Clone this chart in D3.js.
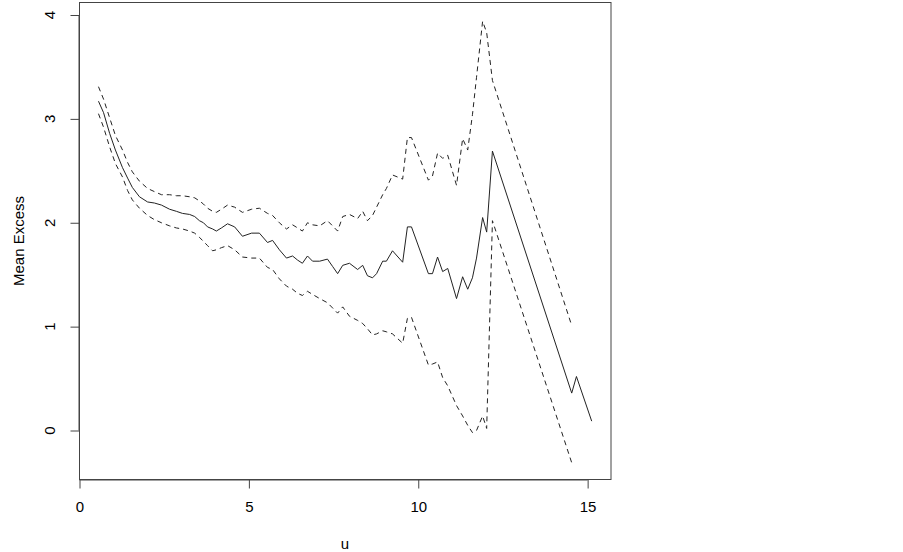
<!DOCTYPE html>
<html>
<head>
<meta charset="utf-8">
<script src="https://cdn.jsdelivr.net/npm/d3@7"></script>
<style>
  body { margin: 0; background: #fff; }
  text { font-family: "Liberation Sans", Arial, sans-serif; fill: #000; }
</style>
</head>
<body>
<div id="chart"></div>
<script>
// threshold u and mean excess with its confidence band
var u = [0.56, 0.71, 0.89, 1.06, 1.27, 1.42, 1.56, 1.77, 2.01, 2.21,
         2.42, 2.66, 2.86, 3.04, 3.25, 3.40, 3.54, 3.66, 3.78, 3.93,
         4.04, 4.19, 4.37, 4.58, 4.81, 5.08, 5.31, 5.55, 5.70, 5.90,
         6.11, 6.29, 6.44, 6.58, 6.73, 6.88, 7.09, 7.32, 7.47, 7.62,
         7.77, 7.97, 8.21, 8.36, 8.50, 8.65, 8.77, 8.95, 9.06, 9.24,
         9.54, 9.68, 9.80, 10.30, 10.42, 10.57, 10.72, 10.87, 11.13, 11.31,
         11.46, 11.60, 11.72, 11.90, 12.02, 12.19, 14.53, 14.67, 15.12];

var meanExcess = [3.17, 3.06, 2.86, 2.70, 2.53, 2.43, 2.34, 2.25, 2.20, 2.19,
                  2.17, 2.13, 2.11, 2.09, 2.08, 2.06, 2.02, 2.00, 1.96, 1.94,
                  1.92, 1.95, 1.99, 1.96, 1.87, 1.90, 1.90, 1.81, 1.83, 1.74,
                  1.66, 1.68, 1.64, 1.61, 1.68, 1.63, 1.63, 1.65, 1.58, 1.51,
                  1.59, 1.61, 1.55, 1.59, 1.49, 1.47, 1.51, 1.63, 1.63, 1.73,
                  1.62, 1.96, 1.96, 1.51, 1.51, 1.67, 1.53, 1.56, 1.27, 1.48,
                  1.36, 1.47, 1.66, 2.05, 1.91, 2.69, 0.36, 0.52, 0.09];

var upperCI = [3.31, 3.19, 3.01, 2.84, 2.70, 2.58, 2.49, 2.40, 2.33, 2.30,
               2.27, 2.27, 2.26, 2.26, 2.25, 2.24, 2.21, 2.18, 2.14, 2.11,
               2.10, 2.13, 2.17, 2.15, 2.10, 2.13, 2.14, 2.09, 2.07, 2.00,
               1.94, 1.98, 1.95, 1.92, 2.00, 1.98, 1.97, 2.02, 1.97, 1.92,
               2.06, 2.08, 2.04, 2.11, 2.02, 2.07, 2.15, 2.27, 2.33, 2.46,
               2.42, 2.82, 2.82, 2.41, 2.45, 2.67, 2.62, 2.65, 2.36, 2.81,
               2.70, 3.04, 3.40, 3.94, 3.83, 3.37, 1.01, null, null];

var lowerCI = [3.05, 2.92, 2.73, 2.57, 2.44, 2.31, 2.22, 2.14, 2.07, 2.03,
               2.00, 1.97, 1.95, 1.94, 1.92, 1.90, 1.86, 1.82, 1.78, 1.73,
               1.74, 1.76, 1.78, 1.74, 1.67, 1.66, 1.66, 1.57, 1.55, 1.46,
               1.39, 1.36, 1.32, 1.30, 1.34, 1.31, 1.27, 1.23, 1.18, 1.13,
               1.19, 1.10, 1.06, 1.03, 0.98, 0.92, 0.93, 0.96, 0.95, 0.93,
               0.84, 1.08, 1.09, 0.63, 0.64, 0.66, 0.51, 0.43, 0.24, 0.14,
               0.05, -0.02, 0.00, 0.14, 0.02, 2.02, -0.31, null, null];

var xTicks = [0, 5, 10, 15];
var yTicks = [0, 1, 2, 3, 4];

var svg = d3.select("#chart").append("svg").attr("width", 903).attr("height", 552);

var xScale = d3.scaleLinear().domain([0, 15.69]).range([79.5, 611]);
var yScale = d3.scaleLinear().domain([0, 4]).range([430.5, 15]);

// box
svg.append("rect")
    .attr("x", 79.5).attr("y", 2.5)
    .attr("width", 531.5).attr("height", 477)
    .attr("fill", "none").attr("stroke", "#444").attr("stroke-width", 1);

function series(vals) {
    return u.map(function(d, i){ return [d, vals[i]]; });
}

var line = d3.line()
    .defined(function(d){ return d[1] != null; })
    .x(function(d){ return xScale(d[0]); })
    .y(function(d){ return yScale(d[1]); });

svg.append("path").attr("d", line(series(meanExcess)))
    .attr("fill", "none").attr("stroke", "#222").attr("stroke-width", 1);

[upperCI, lowerCI].forEach(function(ci){
    svg.append("path").attr("d", line(series(ci)))
        .attr("fill", "none").attr("stroke", "#222").attr("stroke-width", 1)
        .attr("stroke-dasharray", "5,4");
});

// x axis
var xAxis = d3.axisBottom(xScale).tickValues(xTicks).tickSize(9).tickPadding(13);
var gx = svg.append("g").attr("transform", "translate(0,479.5)").call(xAxis);
gx.select(".domain").attr("d", "M" + xScale(0) + ",0.5H" + xScale(15));
gx.selectAll("line").attr("stroke", "#444");
gx.selectAll(".domain").attr("stroke", "#444");
gx.selectAll("text").attr("font-size", 15).attr("font-family", "Liberation Sans, Arial, sans-serif").attr("fill", "#000");

// y axis, labels rotated like base R
var yAxis = d3.axisLeft(yScale).tickValues(yTicks).tickSize(9).tickFormat("");
var gy = svg.append("g").attr("transform", "translate(79.5,0)").call(yAxis);
gy.select(".domain").attr("d", "M-0.5," + yScale(0) + "V" + yScale(4));
gy.selectAll("line").attr("stroke", "#444");
gy.selectAll(".domain").attr("stroke", "#444");

svg.selectAll(".ylab").data(yTicks).enter()
    .append("text")
    .attr("class", "ylab")
    .text(function(d){ return d; })
    .attr("transform", function(d){ return "translate(50," + yScale(d) + ") rotate(-90)"; })
    .attr("text-anchor", "middle")
    .attr("dy", "0.35em")
    .attr("font-size", 15);

svg.append("text").text("u")
    .attr("x", 345).attr("y", 549)
    .attr("text-anchor", "middle").attr("font-size", 15);

svg.append("text").text("Mean Excess")
    .attr("transform", "translate(19,241) rotate(-90)")
    .attr("text-anchor", "middle").attr("dy", "0.35em")
    .attr("font-size", 15);
</script>
</body>
</html>
